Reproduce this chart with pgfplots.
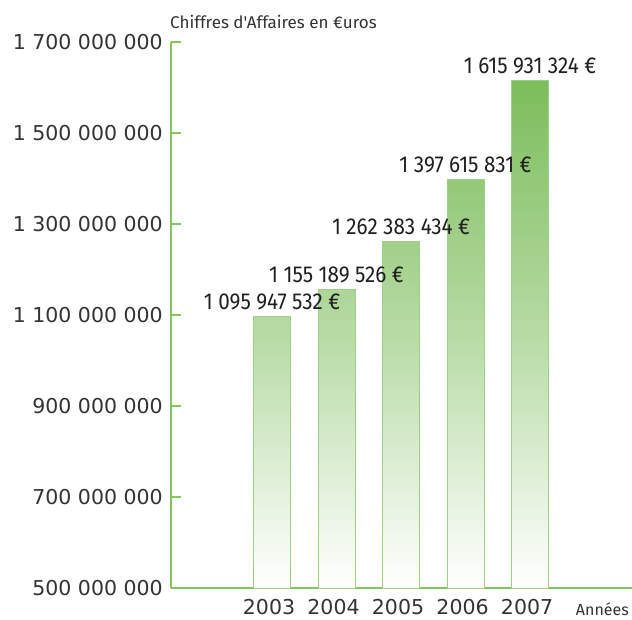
\documentclass[border=0pt]{standalone}
\usepackage{fontspec}
\setmainfont{DejaVu Sans}
\newfontfamily\titlefont{Fira Sans}
\newfontfamily\valfont[FakeStretch=0.9]{Fira Sans}
\usepackage{pgfplots}
\usepackage{pgfplotstable}
\pgfplotsset{compat=1.18}

\definecolor{axisgreen}{HTML}{84C562}
\definecolor{bargreen}{HTML}{7CBD5B}
\definecolor{edgegreen}{HTML}{9CD084}
\definecolor{ticktext}{HTML}{333333}

% chiffre d'affaires par annee (bars start at 500 000 000, hence the offset)
\pgfplotstableread[col sep=comma]{
annee,ca,lab
2003,1095947532,1 095 947 532 €
2004,1155189526,1 155 189 526 €
2005,1262383434,1 262 383 434 €
2006,1397615831,1 397 615 831 €
2007,1615931324,1 615 931 324 €
}\catable

\begin{document}
\begin{tikzpicture}
\useasboundingbox (0,0) rectangle (632pt,619pt);
\begin{axis}[
  at={(171pt,31pt)}, anchor=south west,
  scale only axis, width=461pt, height=546pt,
  xmin=2001.434, xmax=2008.58,
  ymin=0, ymax=1200000000,
  scaled y ticks=false,
  axis x line=bottom, axis y line=left,
  axis line style={-, axisgreen, line width=2.5pt},
  ybar, bar width=37pt,
  xtick={2003,2004,2005,2006,2007},
  xticklabels={2003,2004,2005,2006,2007},
  ytick={0,200000000,400000000,600000000,800000000,1000000000,1200000000},
  yticklabels={500 000 000,700 000 000,900 000 000,1 100 000 000,1 300 000 000,1 500 000 000,1 700 000 000},
  major x tick style={draw=none},
  major y tick style={axisgreen, line width=2.5pt},
  tick align=inside, major tick length=10pt,
  ticklabel style={font=\fontsize{20.5}{24}\selectfont, text=ticktext, inner sep=0pt},
  yticklabel style={xshift=-8pt},
  xticklabel style={yshift=-11pt, xshift=-3pt},
  clip=false,
]
\addplot[draw=edgegreen, line width=0.8pt, top color=bargreen, bottom color=white,
  middle color=bargreen!55!white,
  nodes near coords, point meta=explicit symbolic,
  every node near coord/.append style={font=\valfont\fontsize{23}{26}\selectfont,
    text=black!88, anchor=south, inner sep=0pt, yshift=6pt}]
  table[x=annee, y expr=\thisrow{ca}-500000000, meta=lab] {\catable};
\end{axis}
\node[anchor=east, inner sep=0pt, text=ticktext, font=\titlefont\fontsize{17}{20}\selectfont] at (170pt,597pt) {};
\node[anchor=west, inner sep=0pt, text=ticktext, font=\titlefont\fontsize{17}{20}\selectfont] at (170pt,597pt) {Chiffres d'Affaires en €uros};
\node[anchor=east, inner sep=0pt, text=ticktext, font=\titlefont\fontsize{16}{19}\selectfont] at (629pt,10pt) {Années};
\end{tikzpicture}
\end{document}
